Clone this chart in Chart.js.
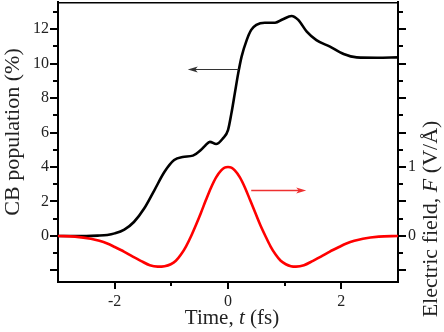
<!DOCTYPE html>
<html><head><meta charset="utf-8">
<script src="https://cdn.jsdelivr.net/npm/chart.js@4/dist/chart.umd.min.js"></script>
<style>html,body{margin:0;padding:0;background:#fff}#wrap{width:444px;height:332px}</style>
</head><body><div id="wrap"><canvas id="c" width="444" height="332"></canvas></div>
<script>
// ---- data ----
const timePop = [-3.0,-2.5,-2.3,-2.13,-2.0,-1.83,-1.66,-1.48,-1.30,-1.12,-0.95,-0.80,-0.62,-0.48,-0.40,-0.32,-0.21,-0.09,0.0,0.06,0.12,0.18,0.24,0.33,0.41,0.50,0.65,0.83,0.97,1.12,1.24,1.39,1.56,1.80,2.04,2.27,2.63,3.0];
const cbPopulation = [0,0,0.02,0.06,0.15,0.37,0.81,1.59,2.65,3.72,4.40,4.58,4.66,4.98,5.25,5.46,5.33,5.66,6.14,7.11,8.27,9.43,10.4,11.36,11.95,12.24,12.37,12.37,12.57,12.76,12.53,11.85,11.36,10.98,10.55,10.36,10.34,10.36];
const timeField = [-3.0,-2.7,-2.42,-2.27,-2.13,-2.0,-1.83,-1.68,-1.54,-1.38,-1.24,-1.12,-1.01,-0.92,-0.83,-0.74,-0.65,-0.56,-0.48,-0.39,-0.30,-0.21,-0.12,-0.06,0,0.06,0.12,0.21,0.30,0.39,0.48,0.57,0.66,0.75,0.84,0.93,1.02,1.11,1.2,1.34,1.5,1.64,1.79,1.96,2.09,2.23,2.38,2.66,3.0];
const electricField = [0,-0.01,-0.04,-0.07,-0.11,-0.16,-0.23,-0.30,-0.36,-0.425,-0.445,-0.438,-0.41,-0.36,-0.27,-0.15,0.0,0.17,0.33,0.52,0.70,0.85,0.95,0.99,1.0,0.99,0.95,0.85,0.70,0.52,0.34,0.16,0.0,-0.15,-0.27,-0.36,-0.41,-0.438,-0.445,-0.425,-0.36,-0.30,-0.23,-0.16,-0.11,-0.07,-0.04,-0.01,0];
const xTickLabels = [-2,0,2];
const yLeftTickLabels = [0,2,4,6,8,10,12];
const yRightTickLabels = [0,1];
const popArrow = {x0:0.19, x1:-0.71, y:9.68};
const fieldArrow = {x0:0.41, x1:1.38, y:0.672};

const FONT = '"Liberation Serif", "Times New Roman", serif';
const TXT = '#222';

function drawMixed(ctx, segs, cx, cy, rot, size){
  ctx.save(); ctx.translate(cx, cy); ctx.rotate(rot);
  let total = 0;
  segs.forEach(s=>{ctx.font=(s.i?'italic ':'')+size+'px '+FONT; s.w=ctx.measureText(s.t).width; total+=s.w;});
  let x = -total/2;
  ctx.textBaseline='middle'; ctx.textAlign='left'; ctx.fillStyle=TXT;
  segs.forEach(s=>{ctx.font=(s.i?'italic ':'')+size+'px '+FONT; ctx.fillText(s.t, x, 0); x+=s.w;});
  ctx.restore();
}
function arrow(ctx, xa, xb, y, color, lw, hl, hw){
  ctx.save(); ctx.strokeStyle=color; ctx.fillStyle=color; ctx.lineWidth=lw;
  const dir = Math.sign(xb-xa);
  ctx.beginPath(); ctx.moveTo(xa, y); ctx.lineTo(xb - dir*hl*0.6, y); ctx.stroke();
  ctx.beginPath(); ctx.moveTo(xb, y); ctx.lineTo(xb - dir*hl, y-hw); ctx.lineTo(xb - dir*hl*0.75, y); ctx.lineTo(xb - dir*hl, y+hw); ctx.closePath(); ctx.fill();
  ctx.restore();
}
function noPad(s){ s.paddingTop=0; s.paddingBottom=0; s.paddingLeft=0; s.paddingRight=0; }

const decor = {
  id:'decor',
  afterDraw(chart){
    const ctx = chart.ctx, a = chart.chartArea;
    const sx = chart.scales.x, sy = chart.scales.y, sy2 = chart.scales.y2;
    ctx.save();
    ctx.strokeStyle='#000'; ctx.lineWidth=1.5;
    ctx.beginPath(); ctx.moveTo(a.left, a.top+0.75); ctx.lineTo(a.right, a.top+0.75); ctx.stroke();
    ctx.lineWidth=2;
    for (let v=-2; v<=13; v++){
      const p = Math.round(sy.getPixelForValue(v));
      const L = (v%2===0)?8:5;
      ctx.beginPath(); ctx.moveTo(a.left, p); ctx.lineTo(a.left-L, p); ctx.stroke();
    }
    for (let k=-2; k<=13; k++){
      const v = k*0.25;
      const p = Math.round(sy2.getPixelForValue(v));
      const L = (k%2===0)?8:5;
      ctx.beginPath(); ctx.moveTo(a.right, p); ctx.lineTo(a.right+L, p); ctx.stroke();
    }
    for (let v=-2; v<=2; v++){
      const p = Math.round(sx.getPixelForValue(v));
      const L = (v%2===0)?7:4;
      ctx.beginPath(); ctx.moveTo(p, a.bottom); ctx.lineTo(p, a.bottom+L); ctx.stroke();
    }
    ctx.restore();
    arrow(ctx, sx.getPixelForValue(popArrow.x0), sx.getPixelForValue(popArrow.x1), Math.round(sy.getPixelForValue(popArrow.y))+0.5, '#333', 1.2, 10, 3);
    arrow(ctx, sx.getPixelForValue(fieldArrow.x0), sx.getPixelForValue(fieldArrow.x1), Math.round(sy2.getPixelForValue(fieldArrow.y))+0.5, '#ee3030', 1.4, 10, 3);
    drawMixed(ctx, [{t:'Time, '},{t:'t',i:true},{t:' (fs)'}], 232, 318, 0, 21);
    drawMixed(ctx, [{t:'CB population (%)'}], 13, 132, -Math.PI/2, 22);
    drawMixed(ctx, [{t:'Electric field, '},{t:'F',i:true},{t:' (V/Å)'}], 431, 219, -Math.PI/2, 22);
  }
};

new Chart(document.getElementById('c'), {
  type:'line',
  data:{datasets:[
    {label:'F', data: timeField.map((t,i)=>({x:t,y:electricField[i]})), yAxisID:'y2', borderColor:'#ff0000', borderWidth:2.6, pointRadius:0, cubicInterpolationMode:'monotone', fill:false},
    {label:'CB', data: timePop.map((t,i)=>({x:t,y:cbPopulation[i]})), yAxisID:'y', borderColor:'#000000', borderWidth:2.6, pointRadius:0, cubicInterpolationMode:'monotone', fill:false}
  ]},
  options:{
    responsive:false, devicePixelRatio:1, animation:false, events:[],
    layout:{padding:{top:2,left:0,right:0,bottom:0}},
    plugins:{legend:{display:false}, tooltip:{enabled:false}},
    scales:{
      x:{type:'linear', min:-3, max:3,
        grid:{display:false, drawTicks:false}, border:{display:true, width:2, color:'#000'},
        ticks:{stepSize:1, autoSkip:false, maxRotation:0, padding:10, color:TXT, font:{family:FONT, size:16},
          callback:(v)=> xTickLabels.includes(v) ? String(v) : ''},
        afterFit:(s)=>{s.height=50; noPad(s);}
      },
      y:{type:'linear', position:'left', min:-2.67, max:13.57,
        grid:{display:false, drawTicks:false}, border:{display:true, width:2, color:'#000'},
        ticks:{stepSize:1, autoSkip:false, padding:9, color:TXT, font:{family:FONT, size:16},
          callback:(v)=> yLeftTickLabels.includes(v) ? String(v) : ''},
        afterFit:(s)=>{s.width=58; noPad(s);}
      },
      y2:{type:'linear', position:'right', min:-0.6675, max:3.3925,
        grid:{display:false, drawTicks:false}, border:{display:true, width:2, color:'#000'},
        ticks:{stepSize:0.25, autoSkip:false, padding:10, color:TXT, font:{family:FONT, size:16},
          callback:(v)=> yRightTickLabels.includes(v) ? String(v) : ''},
        afterFit:(s)=>{s.width=46; noPad(s);}
      }
    }
  },
  plugins:[decor]
});
</script>
</body></html>
